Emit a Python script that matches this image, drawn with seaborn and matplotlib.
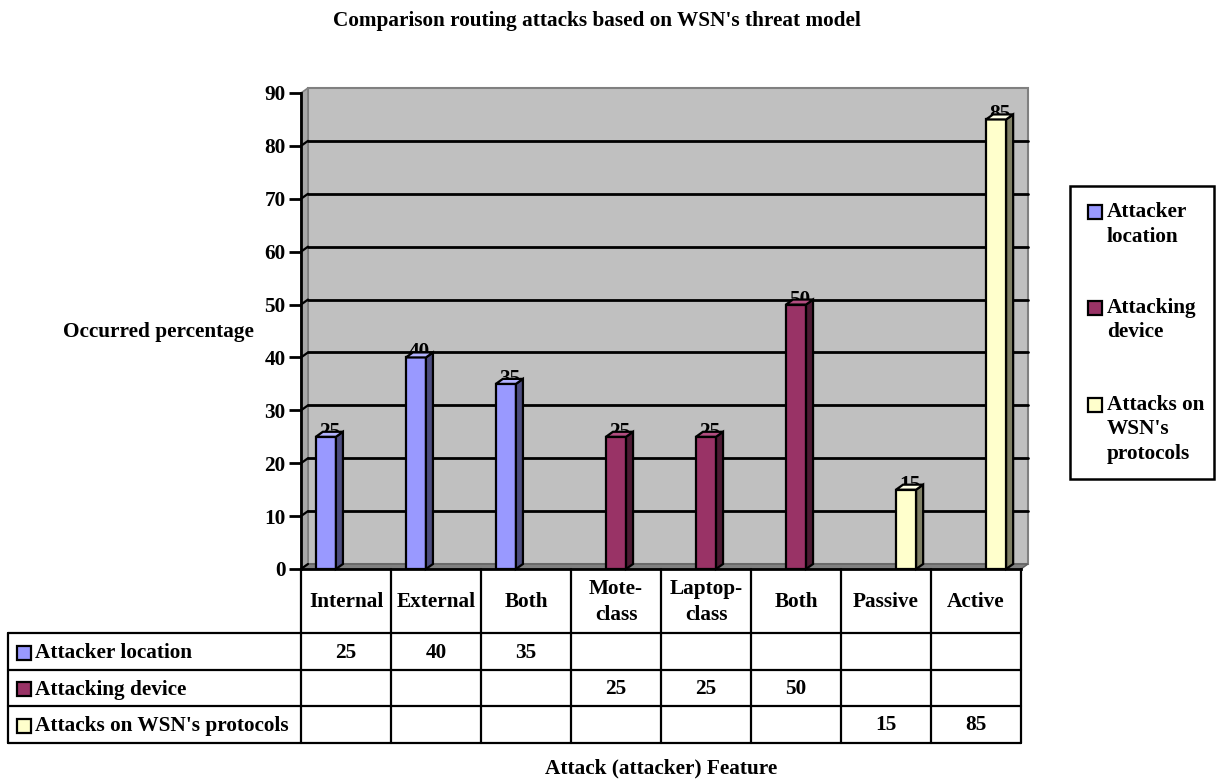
import matplotlib
matplotlib.use("Agg")
import numpy as np
import pandas as pd
import matplotlib.pyplot as plt
from matplotlib.patches import Polygon, Rectangle
from matplotlib.lines import Line2D
import seaborn as sns

# ---- data -------------------------------------------------------------
features = ["Internal", "External", "Both", "Mote-\nclass", "Laptop-\nclass",
            "Both", "Passive", "Active"]
series_names = ["Attacker location", "Attacking device", "Attacks on WSN's protocols"]
legend_labels = ["Attacker\nlocation", "Attacking\ndevice", "Attacks on\nWSN's\nprotocols"]
attacker_location = [25, 40, 35, None, None, None, None, None]
attacking_device = [None, None, None, 25, 25, 50, None, None]
protocol_attacks = [None, None, None, None, None, None, 15, 85]
y_ticks = [0, 10, 20, 30, 40, 50, 60, 70, 80, 90]

title = "Comparison routing attacks based on WSN's threat model"
y_label = "Occurred percentage"
x_label = "Attack (attacker) Feature"

face_colors = ["#9999FF", "#993366", "#FFFFCC"]
side_colors = ["#4D4D80", "#4D1A33", "#808066"]
top_colors = ["#B3B3FF", "#B34D80", "#FFFFE6"]

# ---- figure setup -----------------------------------------------------
sns.set_style("white")
plt.rcParams["font.family"] = ["Liberation Serif", "DejaVu Serif"]
plt.rcParams["font.weight"] = "bold"
plt.rcParams["text.color"] = "black"
plt.rcParams["ytick.color"] = "black"
plt.rcParams["xtick.color"] = "black"

FS = 15.3
W, H, DPI = 1216, 779, 100
fig = plt.figure(figsize=(W / DPI, H / DPI), dpi=DPI)


def fx(x):
    return x / W


def fy(y):
    return 1 - y / H


ax = fig.add_axes([fx(301), fy(569), 720 / W, 476 / H])

all_series = [attacker_location, attacking_device, protocol_attacks]
rows = []
for name, values in zip(series_names, all_series):
    for i, v in enumerate(values):
        if v is not None:
            rows.append({"slot": i, "series": name, "value": v})
df = pd.DataFrame(rows)

sns.barplot(data=df, x="slot", y="value", hue="series", order=list(range(len(features))),
            hue_order=series_names, palette=dict(zip(series_names, face_colors)),
            width=0.67, dodge=True, saturation=1, errorbar=None,
            edgecolor="black", linewidth=1.6, legend=False, ax=ax)

ax.set_xlim(-0.5, len(features) - 0.5)
ax.set_ylim(0, 90)

# depth of the 3-D effect in pixels, converted to data units
ppx = 720 / len(features)
ppy = 476 / 90
DX_PX, DY_PX = 7, 5
dx = DX_PX / ppx
dy = DY_PX / ppy
x0, x1 = ax.get_xlim()

# back wall, side wall and floor
ax.add_patch(Rectangle((x0 + dx, dy), x1 - x0, 90, facecolor="#C0C0C0",
                       edgecolor="#808080", linewidth=1.5, zorder=0.2, clip_on=False))
ax.add_patch(Polygon([(x0, 0), (x0 + dx, dy), (x0 + dx, 90 + dy), (x0, 90)],
                     facecolor="#A8A8A8", edgecolor="#808080", linewidth=1.2,
                     zorder=0.3, clip_on=False))
ax.add_patch(Polygon([(x0, 0), (x1, 0), (x1 + dx, dy), (x0 + dx, dy)],
                     facecolor="#808080", edgecolor="#606060", linewidth=1,
                     zorder=0.4, clip_on=False))

# gridlines on the back wall with the short connectors to the axis
for v in y_ticks[1:-1]:
    ax.add_line(Line2D([x0 + dx, x1 + dx], [v + dy, v + dy], color="black",
                       linewidth=2, zorder=0.6, clip_on=False))
for v in y_ticks[:-1]:
    ax.add_line(Line2D([x0, x0 + dx], [v, v + dy], color="black",
                       linewidth=1.6, zorder=0.6, clip_on=False))

# extruded faces and value labels for every bar
for k, container in enumerate(ax.containers):
    for bar in container:
        h = bar.get_height()
        if h is None or np.isnan(h) or h == 0:
            continue
        bx0 = bar.get_x()
        bx1 = bx0 + bar.get_width()
        bar.set_zorder(3)
        ax.add_patch(Polygon([(bx1, 0), (bx1 + dx, dy), (bx1 + dx, h + dy), (bx1, h)],
                             facecolor=side_colors[k], edgecolor="black",
                             linewidth=1.6, zorder=3, clip_on=False))
        ax.add_patch(Polygon([(bx0, h), (bx1, h), (bx1 + dx, h + dy), (bx0 + dx, h + dy)],
                             facecolor=top_colors[k], edgecolor="black",
                             linewidth=1.6, zorder=3, clip_on=False))
        ax.text((bx0 + bx1) / 2 + dx / 2, h, f"{h:g}", ha="center", va="baseline",
                fontsize=FS, fontweight="bold", color="black", zorder=2.5, clip_on=False)

# axes styling
ax.set_yticks(y_ticks)
ax.set_yticklabels([str(t) for t in y_ticks], fontsize=FS, fontweight="bold", color="black")
ax.set_xticks([])
ax.set_xlabel("")
ax.set_ylabel("")
ax.tick_params(axis="y", direction="out", length=9, width=2, color="black", pad=2, left=True)
for s in ["top", "right"]:
    ax.spines[s].set_visible(False)
for s in ["left", "bottom"]:
    ax.spines[s].set_color("black")
    ax.spines[s].set_linewidth(2)
    ax.spines[s].set_zorder(4)
ax.set_facecolor("none")
ax.grid(False)

# ---- data table under the plot ---------------------------------------
col_edges = [ax.transData.transform((i - 0.5, 0))[0] for i in range(len(features) + 1)]
TABLE_LEFT = 8
ROW_Y = [569, 633, 670, 706, 743]
lw_tab = 1.6

for xe in col_edges:
    fig.add_artist(Line2D([fx(xe), fx(xe)], [fy(ROW_Y[0]), fy(ROW_Y[-1])],
                          color="black", linewidth=lw_tab))
fig.add_artist(Line2D([fx(TABLE_LEFT), fx(TABLE_LEFT)], [fy(ROW_Y[1]), fy(ROW_Y[-1])],
                      color="black", linewidth=lw_tab))
for ry in ROW_Y[1:]:
    fig.add_artist(Line2D([fx(TABLE_LEFT), fx(col_edges[-1])], [fy(ry), fy(ry)],
                          color="black", linewidth=lw_tab))

col_centers = [(a + b) / 2 for a, b in zip(col_edges[:-1], col_edges[1:])]
hdr_mid = (ROW_Y[0] + ROW_Y[1]) / 2 + 1
for cx, lab in zip(col_centers, features):
    fig.text(fx(cx), fy(hdr_mid), lab, ha="center", va="center", fontsize=FS,
             fontweight="bold", linespacing=1.45)

for r, (name, values) in enumerate(zip(series_names, all_series)):
    ymid = (ROW_Y[r + 1] + ROW_Y[r + 2]) / 2 + 1
    fig.add_artist(Rectangle((fx(17), fy(ymid + 7)), 14 / W, 14 / H,
                             facecolor=face_colors[r], edgecolor="black", linewidth=1.6))
    fig.text(fx(35), fy(ymid + 1), name, ha="left", va="center", fontsize=FS,
             fontweight="bold")
    for cx, v in zip(col_centers, values):
        if v is not None:
            fig.text(fx(cx), fy(ymid), f"{v}", ha="center", va="center",
                     fontsize=FS, fontweight="bold")

# ---- legend box --------------------------------------------------------
fig.add_artist(Rectangle((fx(1070), fy(479)), 144 / W, (479 - 186) / H,
                         facecolor="white", edgecolor="black", linewidth=1.8))
entry_tops = [212, 308, 405]
LINE_STEP = 24.5
for k, (lab, ytop) in enumerate(zip(legend_labels, entry_tops)):
    fig.add_artist(Rectangle((fx(1088), fy(ytop + 7)), 14 / W, 14 / H,
                             facecolor=face_colors[k], edgecolor="black", linewidth=1.6))
    for j, line in enumerate(lab.split("\n")):
        fig.text(fx(1107), fy(ytop + j * LINE_STEP), line, ha="left", va="center",
                 fontsize=FS, fontweight="bold")

# ---- titles ------------------------------------------------------------
fig.text(fx(597), fy(21), title, ha="center", va="center", fontsize=FS, fontweight="bold")
fig.text(fx(158), fy(332), y_label, ha="center", va="center", fontsize=FS, fontweight="bold")
fig.text(fx(661), fy(768), x_label, ha="center", va="center", fontsize=FS, fontweight="bold")

fig.savefig("out.png", dpi=DPI, facecolor="white")
